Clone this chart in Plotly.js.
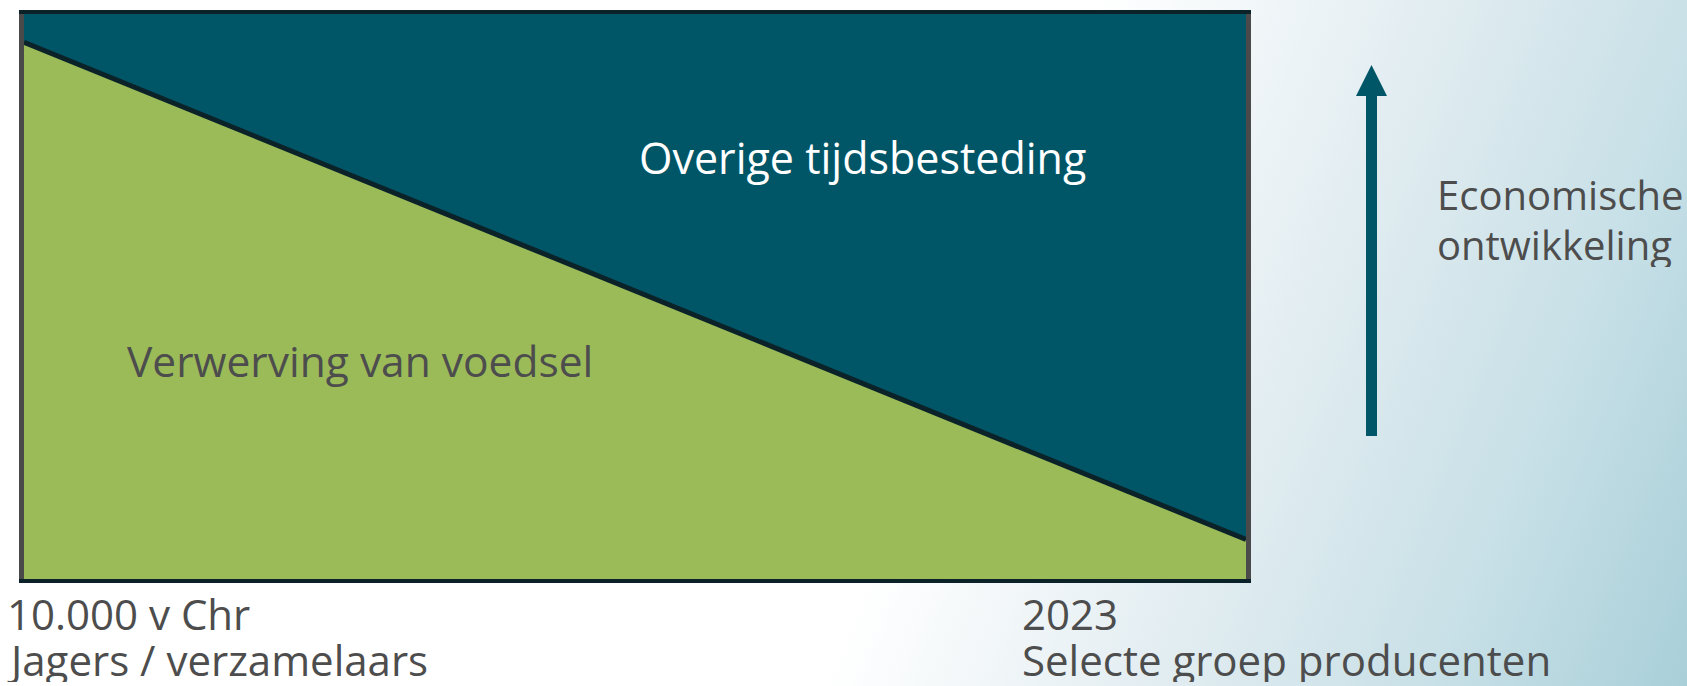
<!DOCTYPE html>
<html>
<head>
<meta charset="utf-8">
<script src="https://cdn.plot.ly/plotly-3.0.1.min.js"></script>
<style>
  html, body { margin: 0; padding: 0; background: #ffffff; }
  #chart {
    width: 1687px; height: 686px;
    background: linear-gradient(112deg, #ffffff 0%, #ffffff 56%, #e4eef2 72%, #c6dfe6 88%, #a9cfd9 100%);
  }
</style>
</head>
<body>
<div id="chart"></div>
<script>
// ---- data ----
const categories = ['10.000 v Chr', '2023'];
const voedselShare = [95, 7];      // Verwerving van voedsel (% of time)
const overigShare = [5, 93];       // Overige tijdsbesteding (% of time)
const seriesNames = ['Verwerving van voedsel', 'Overige tijdsbesteding'];
const startLabels = ['10.000 v Chr', 'Jagers / verzamelaars'];
const endLabels = ['2023', 'Selecte groep producenten'];
const sideLabels = ['Economische', 'ontwikkeling'];

// ---- layout geometry ----
const W = 1687, H = 686;
const M = { l: 24, r: 441, t: 14, b: 107 };
const PW = W - M.l - M.r, PH = H - M.t - M.b;
const px = x => (x - M.l) / PW;
const py = y => (H - M.b - y) / PH;

const TEXT = '#4d4d4d';
const TEAL = '#005566';
const GREEN = '#9bbb59';
const DARK = '#0b2229';
const FONT = 'Open Sans, Noto Sans, sans-serif';

const traces = [
  {
    x: categories, y: voedselShare, name: seriesNames[0],
    type: 'scatter', mode: 'lines', stackgroup: 'one',
    fillcolor: GREEN, line: { color: DARK, width: 5 },
    hoverinfo: 'skip'
  },
  {
    x: categories, y: overigShare, name: seriesNames[1],
    type: 'scatter', mode: 'lines', stackgroup: 'one',
    fillcolor: TEAL, line: { color: TEAL, width: 0 },
    hoverinfo: 'skip'
  }
];

function ann(text, x, y, opts) {
  return Object.assign({
    text: text, x: px(x), y: py(y), xref: 'paper', yref: 'paper',
    xanchor: 'left', yanchor: 'middle', showarrow: false, borderpad: 0,
    font: { family: FONT, size: 42, color: TEXT }
  }, opts || {});
}

const annotations = [
  ann(seriesNames[1], 862, 157, { xanchor: 'center', font: { family: FONT, size: 43, color: '#ffffff' } }),
  ann(seriesNames[0], 360, 360, { xanchor: 'center', font: { family: FONT, size: 42.5, color: TEXT } }),
  ann(startLabels[0], 6, 613, { height: 46 }),
  ann(startLabels[1], 6, 659, { height: 46 }),
  ann(endLabels[0], 1021, 613, { height: 46 }),
  ann(endLabels[1], 1021, 659, { height: 46 }),
  ann(sideLabels[0], 1436, 194, { height: 46, font: { family: FONT, size: 40, color: TEXT } }),
  ann(sideLabels[1], 1436, 244, { height: 46, font: { family: FONT, size: 40, color: TEXT } })
];

const shapes = [
  { type: 'rect', xref: 'paper', yref: 'paper',
    x0: px(1366), x1: px(1377), y0: py(436), y1: py(95),
    fillcolor: TEAL, line: { width: 0 } },
  { type: 'path', xref: 'paper', yref: 'paper',
    path: 'M ' + px(1356) + ' ' + py(96) + ' L ' + px(1387) + ' ' + py(96) + ' L ' + px(1371.5) + ' ' + py(65) + ' Z',
    fillcolor: TEAL, line: { width: 0 } }
];

const layout = {
  width: W, height: H,
  margin: M,
  paper_bgcolor: 'rgba(0,0,0,0)',
  plot_bgcolor: 'rgba(0,0,0,0)',
  showlegend: false,
  xaxis: {
    type: 'category', range: [0, 1], fixedrange: true,
    showgrid: false, zeroline: false, showticklabels: false, ticks: '',
    showline: true, mirror: true, linecolor: DARK, linewidth: 4
  },
  yaxis: {
    range: [0, 100], fixedrange: true,
    showgrid: false, zeroline: false, showticklabels: false, ticks: '',
    showline: true, mirror: true, linecolor: '#4a4a4a', linewidth: 5
  },
  annotations: annotations,
  shapes: shapes
};

Plotly.newPlot('chart', traces, layout, { displayModeBar: false, staticPlot: true });
</script>
</body>
</html>
